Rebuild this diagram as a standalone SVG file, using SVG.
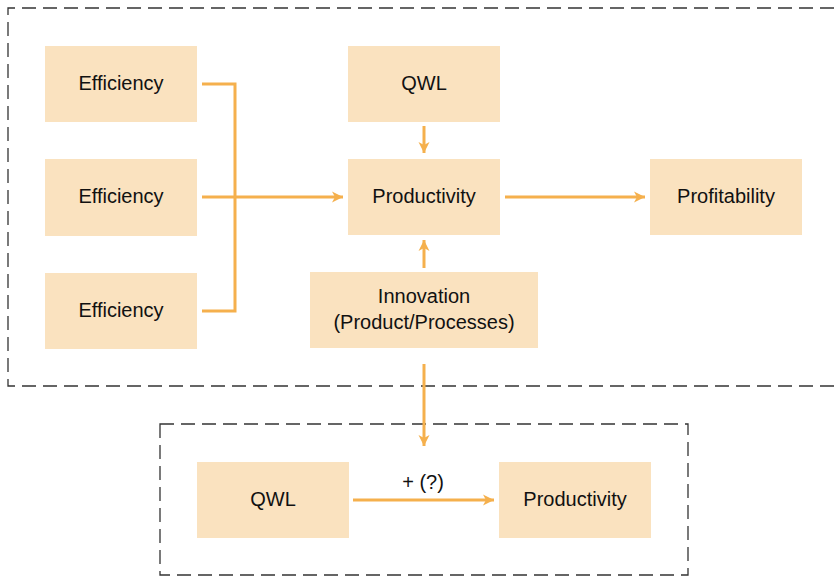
<svg xmlns="http://www.w3.org/2000/svg" width="834" height="576" viewBox="0 0 834 576">
<style>
.box{fill:#fae2bf;}
.t{font-family:"Liberation Sans",Arial,sans-serif;font-size:20px;fill:#111;text-anchor:middle;}
.c{fill:none;stroke:#f5b04d;stroke-width:3;}
.d{fill:none;stroke:#333;stroke-width:1.3;stroke-dasharray:14,7;}
</style>
<defs>
<marker id="ah" markerUnits="userSpaceOnUse" markerWidth="14" markerHeight="14" refX="11" refY="7" orient="auto">
<path d="M0,1.5 L11,7 L0,12.5 L3,7 Z" fill="#f5b04d"/>
</marker>
</defs>
<rect width="834" height="576" fill="#fff"/>
<g id="frames">
<path class="d" d="M834,8 H8 V386 H834"/>
<rect class="d" x="160" y="424" width="528" height="151"/>
</g>
<g id="eff1"><rect class="box" x="45" y="46" width="152" height="76"/><text class="t" x="121" y="90">Efficiency</text></g>
<g id="eff2"><rect class="box" x="45" y="159" width="152" height="77"/><text class="t" x="121" y="203">Efficiency</text></g>
<g id="eff3"><rect class="box" x="45" y="273" width="152" height="76"/><text class="t" x="121" y="317">Efficiency</text></g>
<g id="qwl1"><rect class="box" x="348" y="46" width="152" height="76"/><text class="t" x="424" y="90">QWL</text></g>
<g id="prod1"><rect class="box" x="348" y="159" width="152" height="76"/><text class="t" x="424" y="203">Productivity</text></g>
<g id="profit"><rect class="box" x="650" y="159" width="152" height="76"/><text class="t" x="726" y="203">Profitability</text></g>
<g id="innov"><rect class="box" x="310" y="272" width="228" height="76"/><text class="t" x="424" y="303">Innovation</text><text class="t" x="424" y="329">(Product/Processes)</text></g>
<g id="qwl2"><rect class="box" x="197" y="462" width="152" height="76"/><text class="t" x="273" y="506">QWL</text></g>
<g id="prod2"><rect class="box" x="499" y="462" width="152" height="76"/><text class="t" x="575" y="506">Productivity</text></g>
<g id="connectors">
<path class="c" d="M202,84 H235 V311 H202"/>
<path class="c" d="M202,197 H343" marker-end="url(#ah)"/>
<path class="c" d="M424,126 V153" marker-end="url(#ah)"/>
<path class="c" d="M424,268 V240" marker-end="url(#ah)"/>
<path class="c" d="M505,197 H645" marker-end="url(#ah)"/>
<path class="c" d="M424,364 V446" marker-end="url(#ah)"/>
<path class="c" d="M353,500 H494" marker-end="url(#ah)"/>
<text class="t" x="423" y="489">+ (?)</text>
</g>
</svg>
